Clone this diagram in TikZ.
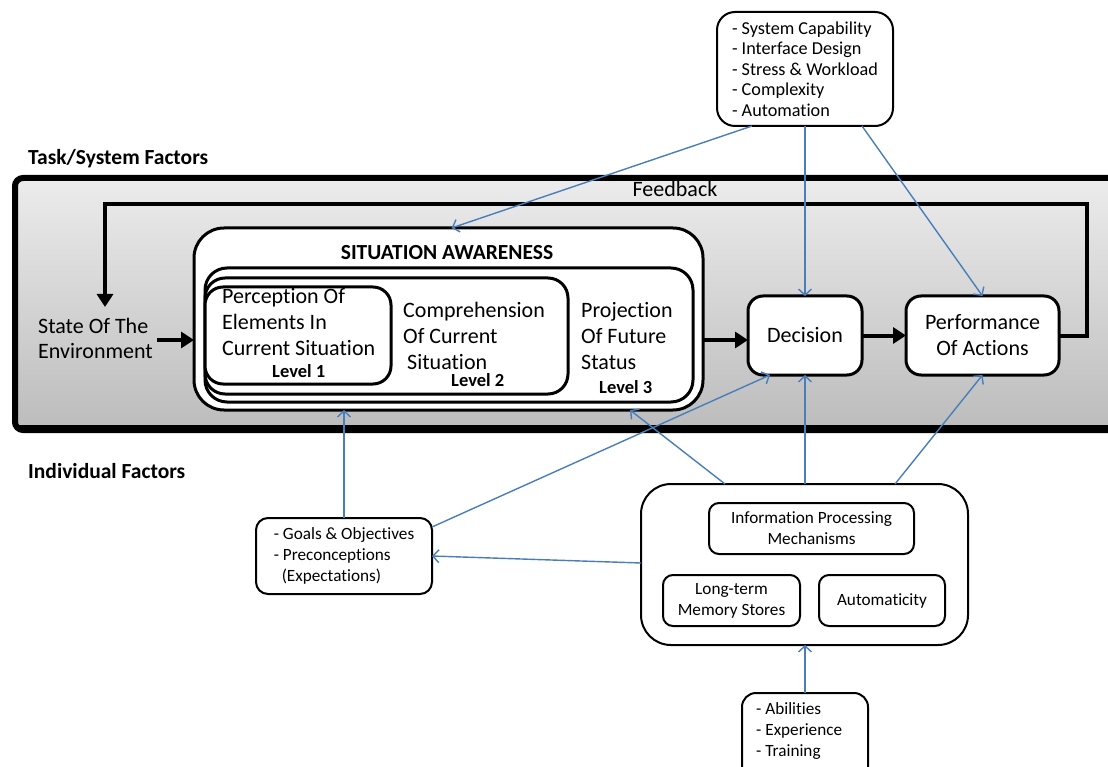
\documentclass[tikz,border=0pt]{standalone}
\usepackage{fontspec}
\setmainfont{Carlito}[Ligatures=CommonOff]
\usetikzlibrary{arrows.meta}
\definecolor{linkblue}{HTML}{4A7EBB}
\definecolor{bandtop}{HTML}{ECECEC}
\definecolor{bandbot}{HTML}{BCBCBC}
\begin{document}
\begin{tikzpicture}[x=1pt,y=-1pt,
  font=\fontsize{22}{26}\selectfont,
  box/.style={draw=black, line width=2pt, fill=white, rounded corners=12pt,
    inner sep=0pt, outer sep=0pt, align=center},
  heavybox/.style={box, line width=3pt, rounded corners=16pt},
  flow/.style={line width=4pt, -{Triangle[length=13pt,width=16pt]}},
  link/.style={draw=linkblue, line width=1.4pt, -{Straight Barb[length=6pt,width=13pt]}},
  small/.style={font=\fontsize{17.2}{21}\selectfont},
  listfont/.style={font=\fontsize{18.2}{20.5}\selectfont},
  lvl/.style={font=\bfseries\fontsize{18.5}{20}\selectfont, anchor=base west, inner sep=0pt},
  ln/.style={anchor=base west, inner sep=0pt},
  heading/.style={font=\bfseries\fontsize{21.5}{24}\selectfont, anchor=base west, inner sep=0pt}]
\useasboundingbox (0,0) rectangle (1108,767);
\clip (0,0) rectangle (1108,767);
\fill[white] (0,0) rectangle (1108,767);

% Task/System band with its heavier lower edge
\node[heading] (tsf) at (28,165) {Task/System Factors};
\draw[line width=6pt, rounded corners=8pt, top color=bandtop, bottom color=bandbot]
  (15,178) rectangle (1150,430);
\draw[line width=3pt] (18,426) -- (1150,426);
\node[heading] (indf) at (28,478) {Individual Factors};

% Situation awareness block
\node[heavybox, rounded corners=30pt, minimum width=509pt, minimum height=182pt] (sa) at (448.5,319) {};
\node[font=\bfseries\fontsize{21.5}{24}\selectfont, anchor=base, inner sep=0pt] (satitle) at (447,260) {SITUATION AWARENESS};
\node[heavybox, rounded corners=22pt, minimum width=488pt, minimum height=134pt] (l3) at (449,335) {};
\node[heavybox, rounded corners=20pt, minimum width=363pt, minimum height=116pt] (l2) at (386.5,336) {};
\node[heavybox, rounded corners=18pt, minimum width=186pt, minimum height=97pt] (l1) at (298,335.5) {};

\node[ln] (l1a) at (222,303) {Perception Of};
\node[ln] (l1b) at (222,329) {Elements In};
\node[ln] (l1c) at (222,355) {Current Situation};
\node[lvl] (l1d) at (272,377) {Level 1};

\node[ln] (l2a) at (403,317) {Comprehension};
\node[ln] (l2b) at (403,343) {Of Current};
\node[ln] (l2c) at (407,369) {Situation};
\node[lvl] (l2d) at (451,386) {Level 2};

\node[ln] (l3a) at (581,317) {Projection};
\node[ln] (l3b) at (581,343) {Of Future};
\node[ln] (l3c) at (581,369) {Status};
\node[lvl] (l3d) at (599,393) {Level 3};

% Environment, decision and action
\node[ln] (env1) at (38,333) {State Of The};
\node[ln] (env2) at (38,358) {Environment};
\coordinate (envout) at (157,340);
\coordinate (fbend) at (105,307);
\node[heavybox, rounded corners=15pt, minimum width=114pt, minimum height=79pt] (dec) at (805,335.5) {Decision};
\node[heavybox, rounded corners=15pt, minimum width=153pt, minimum height=79pt] (perf) at (982.5,335.5) {Performance\\Of Actions};

\draw[flow] (envout) -- (sa.west |- envout);
\draw[flow] (sa.east |- envout) -- (dec.west |- envout);
\draw[flow] (dec.east) -- (perf.west);
\draw[flow] (perf.east) -- ++(28,0) |- (fbend |- 0,204) -- (fbend);
\node[anchor=base, inner sep=0pt] (fblabel) at (675,197) {Feedback};

% Factor boxes
\node[box, listfont, rounded corners=18pt, minimum width=176pt, minimum height=114pt, align=left] (top) at (805,69)
  {- System Capability\\- Interface Design\\- Stress \& Workload\\- Complexity\\- Automation};
\node[box, small, minimum width=176pt, minimum height=76pt, align=left] (goals) at (344,556)
  {- Goals \& Objectives\\- Preconceptions\\\hspace*{8pt}(Expectations)};
\node[box, rounded corners=30pt, minimum width=327pt, minimum height=161pt] (big) at (804.5,564.5) {};
\node[box, small, rounded corners=10pt, minimum width=205pt, minimum height=51pt] (ipm) at (811.5,528.5) {Information Processing\\Mechanisms};
\node[box, small, rounded corners=10pt, minimum width=137pt, minimum height=51pt] (ltm) at (731.5,600.5) {Long-term\\Memory Stores};
\node[box, small, rounded corners=10pt, minimum width=126pt, minimum height=51pt] (auto) at (882,600.5) {Automaticity};
\node[box, rounded corners=14pt, minimum width=126pt, minimum height=92pt] (bot) at (805,739) {};
\node[small, anchor=west, align=left, inner sep=0pt] (bottext) at (756,731) {- Abilities\\- Experience\\- Training};

% Influence links
\draw[link] ([xshift=-53pt]top.south) -- ([xshift=3pt]sa.north);
\draw[link] (top.south) -- (dec.north);
\draw[link] ([xshift=57pt]top.south) -- (perf.north);
\draw[link] (goals.north) -- (goals.north |- sa.south);
\draw[link] ([yshift=29pt]goals.east) -- ([xshift=-35pt]dec.south);
\draw[link] ([yshift=1.5pt]big.west) -- (goals.east);
\draw[link] ([xshift=-79.5pt]big.north) -- ([xshift=181.5pt]sa.south);
\draw[link] (dec.south |- big.north) -- (dec.south);
\draw[link] ([xshift=90.5pt]big.north) -- (perf.south);
\draw[link] (bot.north) -- (bot.north |- big.south);
\end{tikzpicture}
\end{document}
